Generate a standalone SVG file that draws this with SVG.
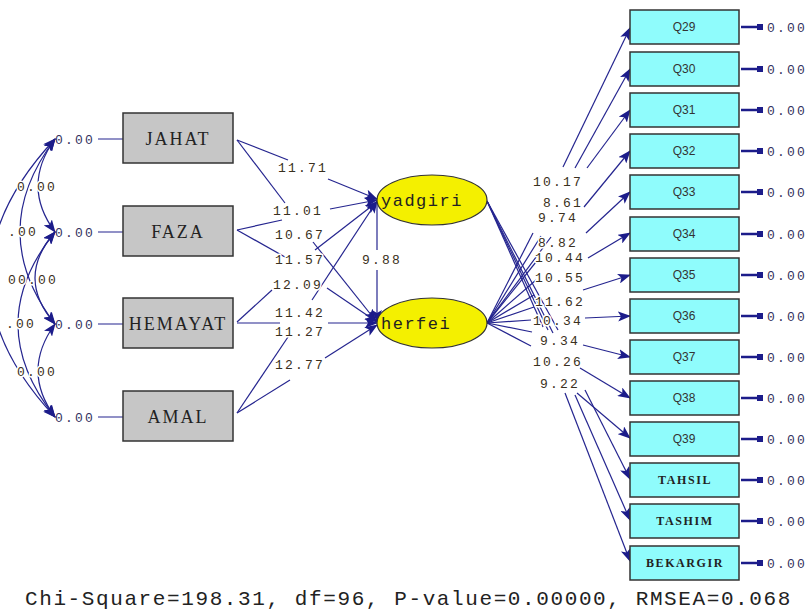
<svg xmlns="http://www.w3.org/2000/svg" width="812" height="610" viewBox="0 0 812 610">
<defs>
<marker id="ah" markerUnits="userSpaceOnUse" markerWidth="14" markerHeight="10" refX="12" refY="5" orient="auto-start-reverse" viewBox="0 0 14 10">
<path d="M0,0 L13,5 L0,10 L3,5 z" fill="#1c1c8a"/>
</marker>
<style>
.ln{fill:none;stroke:#25258f;stroke-width:1.2}
.ar{fill:none;stroke:#25258f;stroke-width:1.2;marker-end:url(#ah)}
.cov{fill:none;stroke:#25258f;stroke-width:1.2;marker-start:url(#ah);marker-end:url(#ah)}
.num{font-family:"Liberation Mono",monospace;font-size:13px;letter-spacing:2.2px;fill:#3a3020;stroke:#fff;stroke-width:3px;paint-order:stroke;stroke-linejoin:round}
.err{font-family:"Liberation Mono",monospace;font-size:13px;letter-spacing:2.2px;fill:#343460}
.gbox{fill:#c6c6c6;stroke:#333;stroke-width:1.5}
.cbox{fill:#8ffcfc;stroke:#333;stroke-width:1.5}
.lat{fill:#f4f000;stroke:#333;stroke-width:1.2}
.gt{font-family:"Liberation Serif",serif;font-size:18px;letter-spacing:2px;fill:#222;text-anchor:middle}
.lt{font-family:"Liberation Mono",monospace;font-size:17px;letter-spacing:1.5px;fill:#222}
.qt{font-family:"Liberation Sans",sans-serif;font-size:12px;fill:#333;text-anchor:middle}
.bt{font-family:"Liberation Serif",serif;font-size:12px;font-weight:bold;letter-spacing:1.6px;fill:#222;text-anchor:middle}
.eb{stroke:#1c1c8a;stroke-width:2.5}
.foot{font-family:"Liberation Mono",monospace;font-size:21px;letter-spacing:1.6px;fill:#222}
</style>
</defs>
<rect width="812" height="610" fill="#fff"/>

<g id="connectors">
<!-- covariance arcs -->
<path class="cov" d="M55,139 Q21,186 55,232"/>
<path class="cov" d="M55,232 Q15,278 55,324"/>
<path class="cov" d="M55,324 Q21,371 55,417"/>
<path class="cov" d="M55,139 Q-15,232 55,324"/>
<path class="cov" d="M55,232 Q-19,324 55,417"/>
<path class="cov" d="M55,139 Q-75,278 55,417"/>
<!-- error lines left -->
<path class="ln" d="M98,139 H123 M98,232 H123 M98,324 H123 M98,417 H123"/>
<!-- exogenous to latent -->
<path class="ln" d="M237,140 L288,160"/><path class="ar" d="M328,179 L377,199"/>
<path class="ln" d="M237,140 L285,203"/><path class="ar" d="M313,242 L376,321"/>
<path class="ln" d="M237,230 L282,220"/><path class="ar" d="M330,209 L377,200"/>
<path class="ln" d="M237,230 L285,257"/><path class="ar" d="M327,288 L377,322"/>
<path class="ln" d="M237,322 L272,290"/><path class="ar" d="M315,250 L377,202"/>
<path class="ln" d="M237,323 L280,323"/><path class="ar" d="M328,323 L377,323"/>
<path class="ln" d="M237,413 L290,334"/><path class="ar" d="M312,300 L377,201"/>
<path class="ln" d="M237,413 L290,380"/><path class="ar" d="M325,358 L377,325"/>
<path class="ln" d="M377,203 V250"/><path class="ar" d="M377,270 V322"/>
<!-- latent to indicators -->
<path class="ln" d="M487,323 L533,233"/><path class="ar" d="M563,167 L630,28"/>
<path class="ln" d="M487,323 L541,236"/><path class="ar" d="M575,168 L630,69"/>
<path class="ln" d="M487,323 L551,237"/><path class="ar" d="M587,168 L630,110"/>
<path class="ln" d="M487,323 L536,262"/><path class="ar" d="M584,207 L630,151"/>
<path class="ln" d="M487,323 L536,280"/><path class="ar" d="M586,233 L630,192"/>
<path class="ln" d="M487,323 L534,295"/><path class="ar" d="M588,258 L630,233"/>
<path class="ln" d="M487,323 L534,307"/><path class="ar" d="M583,290 L630,275"/>
<path class="ln" d="M487,323 L531,320"/><path class="ar" d="M585,318 L630,316"/>
<path class="ln" d="M487,323 L532,332"/><path class="ar" d="M583,345 L630,357"/>
<path class="ln" d="M487,323 L531,346"/><path class="ar" d="M580,368 L630,398"/>
<path class="ln" d="M487,201 L543,327"/><path class="ar" d="M577,393 L630,438"/>
<path class="ln" d="M487,201 L548,330"/><path class="ar" d="M585,390 L630,479"/>
<path class="ln" d="M487,201 L553,333"/><path class="ar" d="M575,395 L630,520"/>
<path class="ln" d="M487,201 L558,330"/><path class="ar" d="M565,393 L630,561"/>
<!-- right error arrows -->
<g class="eb">
<path d="M741,27 H763 M741,69 H763 M741,110 H763 M741,151 H763 M741,192 H763 M741,234 H763 M741,275 H763 M741,316 H763 M741,357 H763 M741,398 H763 M741,439 H763 M741,480 H763 M741,521 H763 M741,563 H763"/>
</g>
<g fill="#1c1c8a">
<rect x="757" y="24" width="6" height="6"/><rect x="757" y="66" width="6" height="6"/><rect x="757" y="107" width="6" height="6"/><rect x="757" y="148" width="6" height="6"/><rect x="757" y="189" width="6" height="6"/><rect x="757" y="231" width="6" height="6"/><rect x="757" y="272" width="6" height="6"/><rect x="757" y="313" width="6" height="6"/><rect x="757" y="354" width="6" height="6"/><rect x="757" y="395" width="6" height="6"/><rect x="757" y="436" width="6" height="6"/><rect x="757" y="477" width="6" height="6"/><rect x="757" y="518" width="6" height="6"/><rect x="757" y="560" width="6" height="6"/>
</g>
</g>

<g id="path-labels">
<text class="num" x="17" y="191">0.00</text>
<text class="num" x="8" y="236">.00</text>
<text class="num" x="8" y="284">00.00</text>
<text class="num" x="6" y="328">.00</text>
<text class="num" x="17" y="376">0.00</text>
<text class="num" x="278" y="172">11.71</text>
<text class="num" x="273" y="215">11.01</text>
<text class="num" x="275" y="239">10.67</text>
<text class="num" x="275" y="264">11.57</text>
<text class="num" x="273" y="289">12.09</text>
<text class="num" x="275" y="317">11.42</text>
<text class="num" x="275" y="336">11.27</text>
<text class="num" x="275" y="369">12.77</text>
<text class="num" x="362" y="264">9.88</text>
<text class="num" x="533" y="186">10.17</text>
<text class="num" x="543" y="207">8.61</text>
<text class="num" x="538" y="222">9.74</text>
<text class="num" x="538" y="247">8.82</text>
<text class="num" x="535" y="262">10.44</text>
<text class="num" x="535" y="282">10.55</text>
<text class="num" x="535" y="306">11.62</text>
<text class="num" x="533" y="325">10.34</text>
<text class="num" x="540" y="345">9.34</text>
<text class="num" x="533" y="366">10.26</text>
<text class="num" x="540" y="388">9.22</text>
</g>

<g id="left-errors">
<text class="err" x="55" y="144" fill="#3a3020">0.00</text>
<text class="err" x="55" y="237">0.00</text>
<text class="err" x="55" y="329">0.00</text>
<text class="err" x="55" y="422">0.00</text>
</g>

<g id="JAHAT"><rect class="gbox" x="123" y="113" width="110" height="50"/><text class="gt" x="178" y="145">JAHAT</text></g>
<g id="FAZA"><rect class="gbox" x="123" y="206" width="110" height="50"/><text class="gt" x="178" y="238">FAZA</text></g>
<g id="HEMAYAT"><rect class="gbox" x="123" y="298" width="110" height="50"/><text class="gt" x="178" y="330">HEMAYAT</text></g>
<g id="AMAL"><rect class="gbox" x="123" y="391" width="110" height="50"/><text class="gt" x="178" y="423">AMAL</text></g>

<g id="yadgiri"><ellipse class="lat" cx="432" cy="200" rx="55" ry="25"/><text class="lt" x="381" y="206">yadgiri</text></g>
<g id="herfei"><ellipse class="lat" cx="432" cy="323" rx="55" ry="25"/><text class="lt" x="381" y="329">herfei</text></g>

<g id="Q29"><rect class="cbox" x="630" y="10" width="109" height="34"/><text class="qt" x="684" y="31">Q29</text></g>
<g id="Q30"><rect class="cbox" x="630" y="52" width="109" height="34"/><text class="qt" x="684" y="73">Q30</text></g>
<g id="Q31"><rect class="cbox" x="630" y="93" width="109" height="34"/><text class="qt" x="684" y="114">Q31</text></g>
<g id="Q32"><rect class="cbox" x="630" y="134" width="109" height="34"/><text class="qt" x="684" y="155">Q32</text></g>
<g id="Q33"><rect class="cbox" x="630" y="175" width="109" height="34"/><text class="qt" x="684" y="196">Q33</text></g>
<g id="Q34"><rect class="cbox" x="630" y="217" width="109" height="34"/><text class="qt" x="684" y="238">Q34</text></g>
<g id="Q35"><rect class="cbox" x="630" y="258" width="109" height="34"/><text class="qt" x="684" y="279">Q35</text></g>
<g id="Q36"><rect class="cbox" x="630" y="299" width="109" height="34"/><text class="qt" x="684" y="320">Q36</text></g>
<g id="Q37"><rect class="cbox" x="630" y="340" width="109" height="34"/><text class="qt" x="684" y="361">Q37</text></g>
<g id="Q38"><rect class="cbox" x="630" y="381" width="109" height="34"/><text class="qt" x="684" y="402">Q38</text></g>
<g id="Q39"><rect class="cbox" x="630" y="422" width="109" height="34"/><text class="qt" x="684" y="443">Q39</text></g>
<g id="TAHSIL"><rect class="cbox" x="630" y="463" width="109" height="34"/><text class="bt" x="685" y="484">TAHSIL</text></g>
<g id="TASHIM"><rect class="cbox" x="630" y="504" width="109" height="34"/><text class="bt" x="685" y="525">TASHIM</text></g>
<g id="BEKARGIR"><rect class="cbox" x="630" y="546" width="109" height="34"/><text class="bt" x="685" y="567">BEKARGIR</text></g>

<g id="right-errors">
<text class="err" x="767" y="32">0.00</text>
<text class="err" x="767" y="74">0.00</text>
<text class="err" x="767" y="115">0.00</text>
<text class="err" x="767" y="156">0.00</text>
<text class="err" x="767" y="197">0.00</text>
<text class="err" x="767" y="239">0.00</text>
<text class="err" x="767" y="280">0.00</text>
<text class="err" x="767" y="321">0.00</text>
<text class="err" x="767" y="362">0.00</text>
<text class="err" x="767" y="403">0.00</text>
<text class="err" x="767" y="444">0.00</text>
<text class="err" x="767" y="485">0.00</text>
<text class="err" x="767" y="526">0.00</text>
<text class="err" x="767" y="568">0.00</text>
</g>

<text class="foot" x="25" y="605">Chi-Square=198.31, df=96, P-value=0.00000, RMSEA=0.068</text>
</svg>
